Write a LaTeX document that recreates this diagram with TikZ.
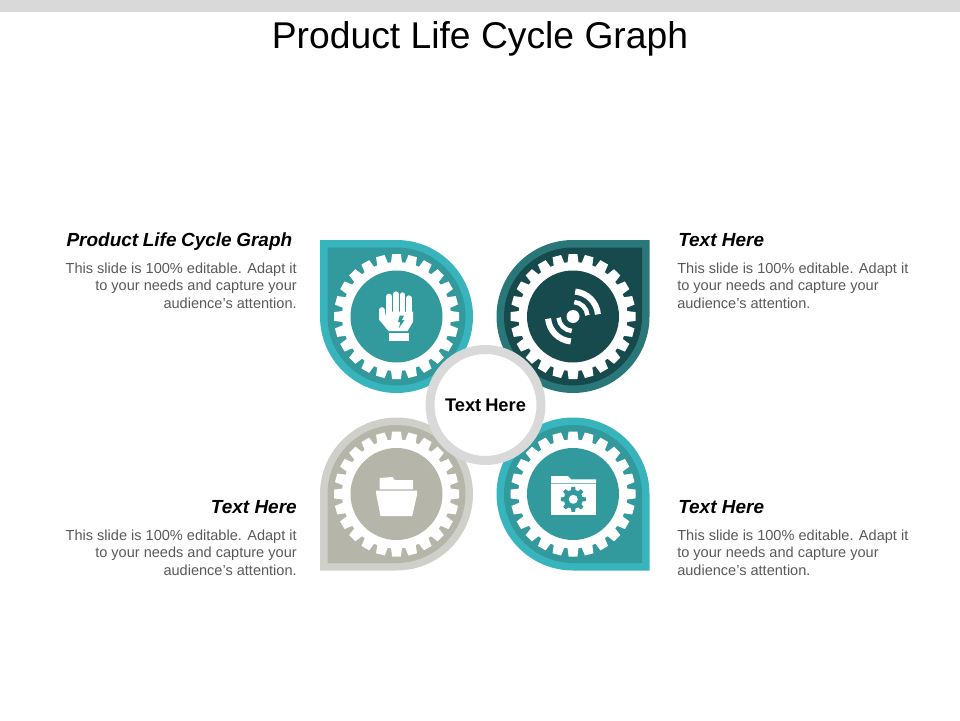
\documentclass[tikz,border=0pt]{standalone}
\usepackage{fontspec}
\setmainfont{Liberation Sans}
\definecolor{tealRim}{HTML}{38B5BC}
\definecolor{tealBody}{HTML}{329A9D}
\definecolor{darkRim}{HTML}{2A7779}
\definecolor{darkBody}{HTML}{174A4D}
\definecolor{stoneRim}{HTML}{D0D0CA}
\definecolor{stoneBody}{HTML}{B5B5A9}
\definecolor{hubGray}{HTML}{D9D9D9}
\definecolor{noteGray}{HTML}{595959}
\tikzset{
    heading/.style={font=\fontsize{13.5}{15}\selectfont\bfseries\itshape, text=black, inner sep=0pt},
    note/.style={font=\fontsize{10.35}{12.45}\selectfont, text=noteGray, inner sep=0pt},
}
\begin{document}
\begin{tikzpicture}[x=0.25mm, y=0.25mm]
    \useasboundingbox (0,0) rectangle (960,720);

    % ====== Top bar and title ======
    \fill[hubGray] (0,708) rectangle (960,720);
    \node[font=\fontsize{26.5}{30}\selectfont, inner sep=0pt] (title) at (480,681.5) {Product Life Cycle Graph};

    % ====== Drops and gear wheels ======
    \foreach \cx/\cy/\sx/\sy/\rim/\body in {396.5/403.5/-1/1/tealRim/tealBody, 573/403.5/1/1/darkRim/darkBody,
        396.5/226/-1/-1/stoneRim/stoneBody, 573/226/1/-1/tealRim/tealBody} {
        \begin{scope}[shift={(\cx,\cy)}, xscale=\sx, yscale=\sy]
            % Outer and inner drop
            \fill[\rim] (0,76.5) -- (76.5,76.5) -- (76.5,0) arc[start angle=0, end angle=-270, radius=76.5] -- cycle;
            \fill[\body] (0,69) -- (69,69) -- (69,0) arc[start angle=0, end angle=-270, radius=69] -- cycle;
        \end{scope}
        % Teeth
        \fill[white] (\cx,\cy) circle (54.5);
        \foreach \t in {0,...,23} {
            \fill[white, shift={(\cx,\cy)}, rotate={\t*15}] (53,-5.6) -- (62.5,-4.4) -- (62.5,4.4) -- (53,5.6) -- cycle;
        }
        \fill[\body] (\cx,\cy) circle (46);
    }

    % ====== Hand icon ======
    \begin{scope}[shift={(396.5,403.5)}]
        \foreach \fx/\ftop in {-7.3/19.9, -0.7/22.2, 6/21.2, 12.5/18.2} {
            \draw[white, line width=4.2pt, line cap=round] (\fx,0) -- (\fx,\ftop);
        }
        \draw[white, line width=4pt, line cap=round] (-14.7,-2) -- (-14.7,6.5);
        \fill[white] (-17.5,-3) -- (-8,-14.5) -- (11,-14.5) -- (16.7,-5) -- (16.7,5) -- (-10.3,5) -- (-11.7,-1) -- (-17.5,-1) -- cycle;
        \fill[white] (-7.7,-16) rectangle (12.3,-24);
        \fill[tealBody] (3.2,1) -- (7.5,1) -- (5.5,-3.5) -- (8,-3.5) -- (2.5,-11.5) -- (3.8,-5.5) -- (1.5,-5.5) -- cycle;
    \end{scope}

    % ====== Signal icon ======
    \begin{scope}[shift={(573,403.5)}]
        \fill[white] (0,0) circle (6.5);
        \draw[white, line width=4.3pt] (85:25) arc[start angle=85, end angle=5, radius=25];
        \draw[white, line width=3.2pt] (85:14.5) arc[start angle=85, end angle=5, radius=14.5];
        \draw[white, line width=4.3pt] (185:25) arc[start angle=185, end angle=265, radius=25];
        \draw[white, line width=3.2pt] (185:14.5) arc[start angle=185, end angle=265, radius=14.5];
    \end{scope}

    % ====== Open folder icon ======
    \begin{scope}[shift={(396.5,226)}]
        \fill[white] (-17,16) -- (-4,17) -- (-2,14) -- (16.7,14) -- (16.7,4.6) -- (-17,4.6) -- cycle;
        \fill[white] (-20.3,3.3) -- (20.7,3.3) -- (20.7,0) -- (15.7,-22) -- (-16,-22) -- (-20.3,0) -- cycle;
    \end{scope}

    % ====== Gear folder icon ======
    \begin{scope}[shift={(573,226)}]
        \fill[white] (-22,18) -- (-5,18) -- (-2,14.7) -- (23,14.7) -- (23,10.7) -- (-22,10.7) -- cycle;
        \fill[white] (-22,9.8) rectangle (23,-21);
        \fill[tealBody] (0.3,-5.3) circle (9.5);
        \foreach \t in {0,...,7} {
            \fill[tealBody, shift={(0.3,-5.3)}, rotate={\t*45}] (8,-2.4) -- (12.5,-1.8) -- (12.5,1.8) -- (8,2.4) -- cycle;
        }
        \fill[white] (0.3,-5.3) circle (4.5);
    \end{scope}

    % ====== Centre ring ======
    \node[circle, draw=hubGray, fill=white, line width=6.4pt, minimum size=27.75mm, inner sep=0pt,
        font=\fontsize{13}{15}\selectfont\bfseries] (hub) at (485.5,315) {Text\hspace{0.22em}Here};

    % ====== Left texts ======
    \node[heading, anchor=east] (headA) at (292.5,478) {Product\hspace{0.24em}Life\hspace{0.24em}Cycle\hspace{0.24em}Graph};
    \node[note, anchor=east, align=right] (noteA) at (297,434.5) {This slide is 100\% editable. Adapt it\\to your needs and capture your\\audience\char39{}s attention.};
    \node[heading, anchor=east] (headC) at (297,213) {Text Here};
    \node[note, anchor=east, align=right] (noteC) at (297,167.5) {This slide is 100\% editable. Adapt it\\to your needs and capture your\\audience\char39{}s attention.};

    % ====== Right texts ======
    \node[heading, anchor=west] (headB) at (678,480) {Text Here};
    \node[note, anchor=west, align=left] (noteB) at (677,434.5) {This slide is 100\% editable. Adapt it\\to your needs and capture your\\audience\char39{}s attention.};
    \node[heading, anchor=west] (headD) at (678,213) {Text Here};
    \node[note, anchor=west, align=left] (noteD) at (677,167.5) {This slide is 100\% editable. Adapt it\\to your needs and capture your\\audience\char39{}s attention.};
\end{tikzpicture}
\end{document}
